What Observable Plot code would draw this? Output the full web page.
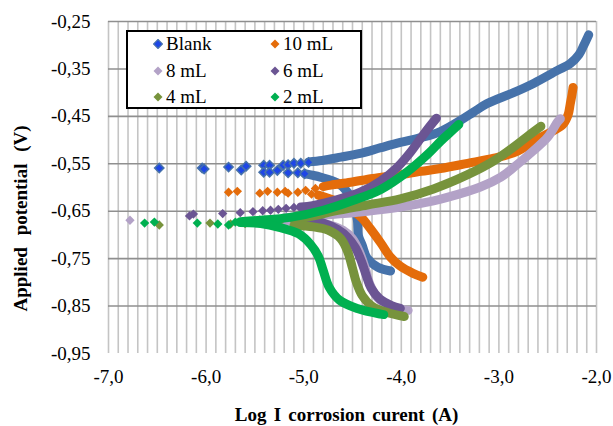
<!DOCTYPE html>
<html>
<head>
<meta charset="utf-8">
<script src="https://cdn.jsdelivr.net/npm/d3@7"></script>
<script src="https://cdn.jsdelivr.net/npm/@observablehq/plot@0.6"></script>
<style>
  html, body { margin: 0; padding: 0; background: #fff; }
  #wrap { position: relative; width: 613px; height: 426px; font-family: "Liberation Serif", "Times New Roman", serif; }
  #wrap svg text { font-family: "Liberation Serif", "Times New Roman", serif; }
  #legend { position: absolute; left: 126px; top: 30px; width: 232px; height: 75px; border: 2px solid #000; background: #fff; }
  .entry { position: absolute; height: 24px; display: flex; align-items: center; font-size: 19px; color: #000; white-space: nowrap; }
  .entry svg { margin-right: 3px; }
</style>
</head>
<body>
<div id="wrap"></div>
<script>
// ---- Data ----
const xTicks = [-7, -6, -5, -4, -3, -2];
const yTicks = [-0.95, -0.85, -0.75, -0.65, -0.55, -0.45, -0.35, -0.25];
const seriesNames = ["Blank", "10 mL", "8 mL", "6 mL", "4 mL", "2 mL"];
const seriesColors = ["#4672aa", "#e46c0a", "#b3a2c7", "#6b5593", "#77933c", "#00b050"];
const yTitle = "Applied potential (V)";
const xTitle = "Log I corrosion curent (A)";

// Blank
const blankScatter = [[-6.48,-0.559],[-6.04,-0.559],[-6.02,-0.561],[-5.77,-0.557],[-5.64,-0.563],[-5.59,-0.555],
  [-5.41,-0.553],[-5.35,-0.553],[-5.41,-0.568],[-5.35,-0.568],[-5.27,-0.564],[-5.21,-0.553],[-5.16,-0.552],
  [-5.16,-0.569],[-5.10,-0.549],[-5.06,-0.569],[-5.03,-0.549],[-4.99,-0.571],[-4.95,-0.547]];
const blankAnodic = [[-4.95,-0.546],[-4.81,-0.543],[-4.62,-0.536],[-4.42,-0.528],[-4.21,-0.516],[-4.01,-0.505],
  [-3.80,-0.495],[-3.60,-0.482],[-3.39,-0.458],[-3.26,-0.441],[-3.12,-0.423],[-2.85,-0.400],[-2.64,-0.380],
  [-2.40,-0.353],[-2.27,-0.339],[-2.18,-0.320],[-2.13,-0.300],[-2.08,-0.278]];
const blankCathodic = [[-4.99,-0.571],[-4.83,-0.578],[-4.65,-0.591],[-4.55,-0.610],[-4.49,-0.633],[-4.45,-0.669],
  [-4.44,-0.701],[-4.40,-0.722],[-4.35,-0.749],[-4.24,-0.768],[-4.11,-0.776]];

// 10 mL
const s10Scatter = [[-5.77,-0.610],[-5.68,-0.608],[-5.45,-0.612],[-5.37,-0.608],[-5.27,-0.610],[-5.19,-0.608],
  [-5.16,-0.612],[-5.06,-0.610],[-4.98,-0.606],[-4.88,-0.602],[-4.92,-0.614]];
const s10Anodic = [[-4.80,-0.598],[-4.72,-0.595],[-4.52,-0.589],[-4.29,-0.581],[-4.04,-0.574],[-3.80,-0.566],
  [-3.60,-0.560],[-3.32,-0.549],[-3.05,-0.538],[-2.85,-0.527],[-2.71,-0.512],[-2.57,-0.494],[-2.44,-0.480],
  [-2.34,-0.466],[-2.29,-0.446],[-2.27,-0.425],[-2.25,-0.403],[-2.24,-0.389]];
const s10Cathodic = [[-4.85,-0.616],[-4.62,-0.633],[-4.50,-0.648],[-4.40,-0.665],[-4.32,-0.686],[-4.21,-0.717],
  [-4.11,-0.747],[-4.01,-0.766],[-3.88,-0.781],[-3.78,-0.789]];

// 8 mL
const s8Scatter = [[-6.78,-0.669],[-5.45,-0.668],[-5.30,-0.666]];
const s8Anodic = [[-5.20,-0.664],[-4.90,-0.660],[-4.60,-0.655],[-4.35,-0.650],[-4.01,-0.641],[-3.67,-0.628],
  [-3.53,-0.621],[-3.19,-0.599],[-2.98,-0.578],[-2.85,-0.558],[-2.65,-0.523],[-2.50,-0.494],[-2.40,-0.462],[-2.37,-0.455]];
const s8Cathodic = [[-5.20,-0.670],[-5.00,-0.672],[-4.75,-0.678],[-4.60,-0.690],[-4.50,-0.708],[-4.43,-0.735],
  [-4.37,-0.770],[-4.32,-0.805],[-4.24,-0.833],[-4.10,-0.851],[-3.93,-0.859]];

// 6 mL
const s6Scatter = [[-6.17,-0.660],[-6.13,-0.656],[-5.83,-0.655],[-5.65,-0.653],[-5.52,-0.651],[-5.42,-0.649],
  [-5.34,-0.648],[-5.26,-0.646],[-5.18,-0.644],[-5.10,-0.642]];
const s6Anodic = [[-5.03,-0.641],[-4.96,-0.640],[-4.70,-0.628],[-4.42,-0.610],[-4.21,-0.586],[-4.04,-0.557],
  [-3.90,-0.524],[-3.80,-0.496],[-3.70,-0.469],[-3.64,-0.454]];
const s6Cathodic = [[-5.00,-0.668],[-4.80,-0.675],[-4.65,-0.689],[-4.55,-0.705],[-4.47,-0.727],[-4.41,-0.755],
  [-4.36,-0.785],[-4.31,-0.812],[-4.22,-0.835],[-4.10,-0.849],[-4.01,-0.855]];

// 4 mL
const s4Scatter = [[-6.48,-0.679],[-5.96,-0.675],[-5.75,-0.677],[-5.60,-0.676],[-5.40,-0.675],[-5.25,-0.673]];
const s4Anodic = [[-5.10,-0.668],[-4.90,-0.660],[-4.69,-0.650],[-4.35,-0.637],[-4.01,-0.624],[-3.67,-0.603],
  [-3.32,-0.573],[-3.06,-0.545],[-2.85,-0.515],[-2.68,-0.488],[-2.57,-0.471]];
const s4Cathodic = [[-5.10,-0.680],[-4.90,-0.683],[-4.75,-0.690],[-4.62,-0.708],[-4.55,-0.735],[-4.50,-0.770],
  [-4.46,-0.800],[-4.40,-0.828],[-4.30,-0.850],[-4.15,-0.863],[-3.97,-0.872]];

// 2 mL
const s2Scatter = [[-6.63,-0.675],[-6.53,-0.673],[-6.09,-0.675],[-5.88,-0.677],[-5.77,-0.679],[-5.70,-0.673]];
const s2Anodic = [[-5.65,-0.672],[-5.44,-0.669],[-5.14,-0.663],[-4.80,-0.648],[-4.49,-0.627],[-4.21,-0.604],
  [-3.94,-0.567],[-3.73,-0.530],[-3.60,-0.503],[-3.50,-0.484],[-3.41,-0.467]];
const s2Cathodic = [[-5.65,-0.674],[-5.44,-0.676],[-5.25,-0.684],[-5.05,-0.698],[-4.93,-0.720],[-4.85,-0.745],
  [-4.80,-0.775],[-4.74,-0.810],[-4.63,-0.838],[-4.45,-0.855],[-4.21,-0.867],[-4.18,-0.868]];

const series = [
  {scatter: blankScatter, branches: [blankAnodic, blankCathodic]},
  {scatter: s10Scatter, branches: [s10Anodic, s10Cathodic]},
  {scatter: s8Scatter, branches: [s8Anodic, s8Cathodic]},
  {scatter: s6Scatter, branches: [s6Anodic, s6Cathodic]},
  {scatter: s4Scatter, branches: [s4Anodic, s4Cathodic]},
  {scatter: s2Scatter, branches: [s2Anodic, s2Cathodic]}
];

const serif = "Liberation Serif, Times New Roman, serif";
const commaFmt = digits => d => d.toFixed(digits).replace(".", ",");
const minorX = d3.range(-70, -19).map(i => i / 10);

const marks = [
  Plot.gridX(minorX, {stroke: "#c4c4c4", strokeOpacity: 1, strokeWidth: 1.6}),
  Plot.gridY(yTicks.filter(d => d > -0.9), {stroke: "#8f8f8f", strokeOpacity: 1, strokeWidth: 1.6}),
  Plot.axisY(yTicks, {tickSize: 0, tickPadding: 18, tickFormat: commaFmt(2), fontSize: 19, fontFamily: serif, label: null}),
  Plot.axisX(xTicks, {tickSize: 0, tickPadding: 16, tickFormat: commaFmt(1), fontSize: 19, fontFamily: serif, label: null})
];

series.forEach((s, i) => {
  const color = seriesColors[i];
  s.branches.forEach(b => {
    marks.push(Plot.line(b, {x: d => d[0], y: d => d[1], stroke: color, strokeWidth: 9,
      curve: "catmull-rom", strokeLinecap: "round", strokeLinejoin: "round"}));
  });
  marks.push(Plot.dot(s.scatter, {x: d => d[0], y: d => d[1], symbol: "diamond2", r: 4.2,
    fill: i === 0 ? "#1e46e6" : color, stroke: color, strokeWidth: i === 0 ? 1.5 : 0}));
});

marks.push(Plot.text([yTitle], {frameAnchor: "left", textAnchor: "middle", lineAnchor: "middle", rotate: -90, dx: -88, dy: 31,
  fontWeight: "bold", fontSize: 19, fontFamily: serif, fill: "#000"}));
marks.push(Plot.text([xTitle], {frameAnchor: "bottom", textAnchor: "middle", lineAnchor: "middle", dx: -6, dy: 61,
  fontWeight: "bold", fontSize: 19, fontFamily: serif, fill: "#000"}));

const chart = Plot.plot({
  width: 613,
  height: 426,
  marginLeft: 108,
  marginRight: 17,
  marginTop: 21,
  marginBottom: 73,
  x: {domain: [-7, -2]},
  y: {domain: [-0.95, -0.25]},
  style: {fontFamily: serif, fontSize: "19px", color: "#000", background: "#fff"},
  marks
});

// wider word gaps in the axis titles, as in the reference
d3.select(chart).selectAll("text").each(function () {
  if (this.textContent === yTitle) this.style.wordSpacing = "7px";
  if (this.textContent === xTitle) this.style.wordSpacing = "2.5px";
});

const wrap = document.getElementById("wrap");
wrap.appendChild(chart);

// Legend (HTML overlay, inside the plot area as in the reference)
const legend = document.createElement("div");
legend.id = "legend";
const pos = [[30, 12], [147, 12], [30, 39], [147, 39], [30, 65], [147, 65]];
seriesNames.forEach((name, i) => {
  const e = document.createElement("div");
  e.className = "entry";
  e.style.left = (pos[i][0] - 5) + "px";
  e.style.top = (pos[i][1] - 12) + "px";
  const fill = i === 0 ? "#1e46e6" : seriesColors[i];
  const stroke = seriesColors[i];
  e.innerHTML = `<svg width="10" height="10" viewBox="0 0 10 10"><polygon points="5,0.5 9.5,5 5,9.5 0.5,5" fill="${fill}" stroke="${stroke}" stroke-width="${i === 0 ? 1.2 : 0}"/></svg>`;
  const t = document.createElement("span");
  t.textContent = name;
  e.appendChild(t);
  legend.appendChild(e);
});
wrap.appendChild(legend);
</script>
</body>
</html>
